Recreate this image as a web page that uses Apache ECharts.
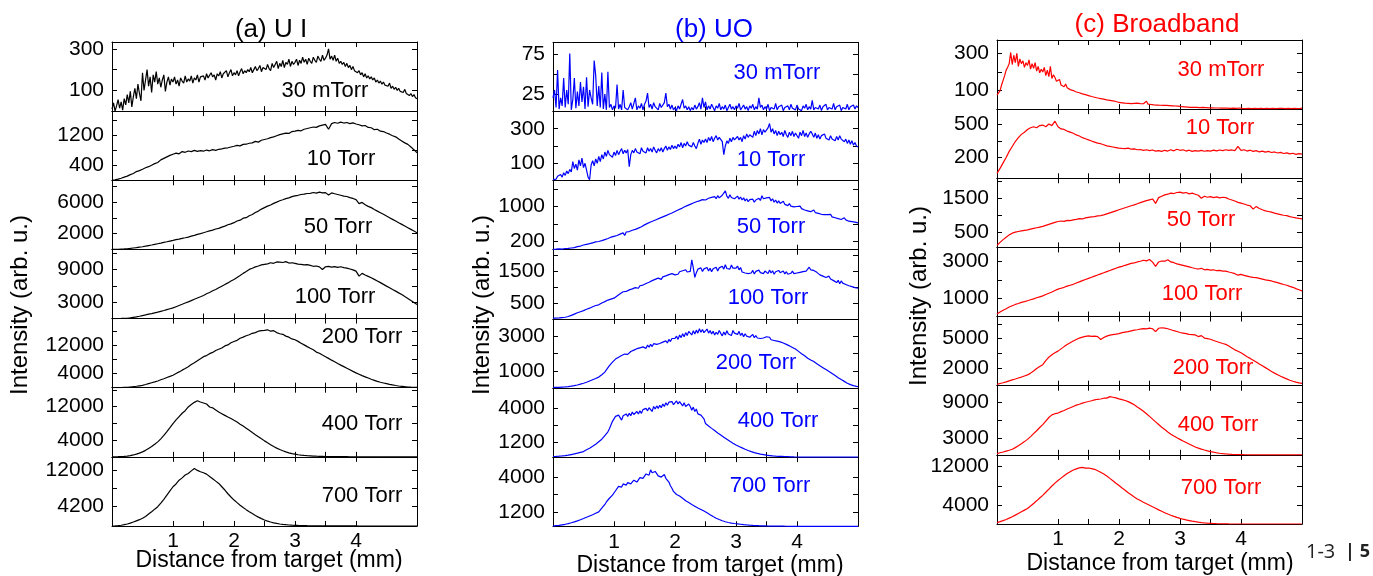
<!DOCTYPE html>
<html>
<head>
<meta charset="utf-8">
<script src="https://cdn.jsdelivr.net/npm/echarts@6/dist/echarts.min.js"></script>
<style>
  html, body { margin: 0; padding: 0; background: #fff; }
  #chart { width: 1373px; height: 576px; }
</style>
</head>
<body>
<div id="chart"></div>
<script>
// Emission intensity profiles vs distance from target, three emission bands,
// seven background pressures each. Samples are evenly spaced over 0–5 mm.
const DIST_MAX = 5;
const PRESSURES = ['30 mTorr', '10 Torr', '50 Torr', '100 Torr', '200 Torr', '400 Torr', '700 Torr'];
const BANDS = ['(a) U I', '(b) UO', '(c) Broadband'];
const X_TICKS = [1, 1.5, 2, 2.5, 3, 3.5, 4];
const X_LABELS = [1, 2, 3, 4];
const X_NAME = 'Distance from target (mm)';
const Y_NAME = 'Intensity (arb. u.)';

// ---- (a) U I ----
const ui30m = [10,40,0,25,55,15,45,5,60,30, 80,40,95,20,70,110,60,130,85,50,
  185,100,150,200,120,165,90,175,140,190, 130,160,115,150,175,95,140,165,125,155,
  140,165,130,150,120,160,145,135,170,140, 155,145,170,135,160,150,175,140,165,160,
  170,150,180,160,155,185,165,175,150,180, 170,190,160,180,175,195,165,185,200,170,
  185,175,195,170,190,205,180,195,185,200, 190,210,185,200,215,195,205,220,190,210,
  215,200,225,205,195,230,210,225,240,205, 230,215,245,210,235,225,250,215,240,225,
  235,250,220,245,230,260,235,250,225,255, 240,230,260,245,235,265,250,240,270,245,
  255,270,300,250,265,245,270,240,255,230, 240,225,235,215,230,210,220,200,215,195,
  200,185,195,175,185,165,180,160,170,155, 165,150,160,140,150,135,145,130,140,125,
  130,120,135,110,120,105,115,100,110,95, 100,90,105,85,90,75,85,70,80,65, 60];
const ui10 = [0,10,30,55,85,110,150,180,230,255, 290,330,360,400,440,470,540,580,620,660,
  690,720,700,760,740,775,760,790,765,785, 770,800,780,810,790,820,830,850,860,880,
  900,925,910,950,955,980,990,1030,1010,1060, 1080,1100,1130,1150,1180,1210,1230,1250,1240,1290,
  1300,1320,1310,1350,1370,1390,1410,1400,1440,1460, 1480,1350,1500,1530,1510,1540,1515,1530,1500,1520,
  1490,1470,1440,1450,1400,1390,1340,1350,1300,1290, 1250,1220,1180,1150,1090,1040,990,950,880,810, 730];
const ui50 = [0,10,20,40,60,85,130,180,230,285, 340,410,490,560,640,720,800,890,970,1060,
  1140,1230,1310,1400,1480,1565,1680,1780,1900,2000, 2115,2230,2350,2440,2580,2665,2820,2950,3120,3240,
  3385,3600,3700,3950,4020,4260,4420,4680,4850,5100, 5290,5480,5620,5830,5980,6160,6280,6430,6520,6680,
  6770,6850,6950,7000,7080,7100,7200,7120,7250,7150, 7190,6900,7150,7050,6950,6850,6750,6700,6550,6450,
  6300,5800,5950,5650,5450,5290,5050,4850,4650,4450, 4230,4020,3800,3600,3380,3170,2960,2750,2540,2330, 2115];
const ui100 = [0,5,15,25,40,60,120,220,320,430, 550,670,800,920,1050,1170,1330,1480,1640,1800,
  1960,2180,2400,2620,2850,3070,3300,3540,3770,4000, 4240,4550,4800,5100,5350,5650,5950,6250,6550,6900,
  7180,7550,7900,8300,8650,9030,9250,9500,9650,9850, 9950,10050,10250,10150,10400,10380,10300,10450,10200,10250,
  10130,10000,9950,9850,9900,9760,9600,9650,9500,9000, 9520,9600,9450,9550,9400,9520,9350,9250,9100,8950,
  8720,7800,8300,8000,7750,7490,7200,6900,6600,6280, 5960,5650,5330,5040,4720,4420,4050,3700,3330,2950, 2580];
const ui200 = [0,10,20,40,70,100,200,300,410,540, 670,900,1150,1400,1650,1920,2250,2550,2900,3220,
  3560,4050,4500,5000,5450,5960,6600,7100,7700,8250, 8840,9150,9700,10050,10600,10950,11300,11900,12200,12800,
  13170,13500,14100,14400,14800,15090,15500,15700,16100,16250, 16340,16500,16100,16250,15700,15380,15200,14700,14400,13900,
  13650,13200,12650,12200,11700,11240,10800,10150,9800,9300, 8840,8350,7850,7400,6900,6440,6000,5550,5100,4650,
  4230,3850,3450,3100,2750,2400,2100,1800,1550,1350, 1150,950,780,620,480,380,280,200,150,120, 100];
const ui400 = [0,10,30,60,100,160,280,450,650,900, 1190,1550,2000,2450,3000,3570,4300,5100,6000,6950,
  7930,8800,9600,10400,11000,11900,12500,13000,13400,13100, 12850,12600,11900,11700,11200,10700,10300,9900,9500,9150,
  8720,8300,7800,7350,6850,6340,5800,5300,4800,4300, 3810,3350,2900,2450,2080,1740,1450,1180,950,780,
  630,500,400,330,280,240,190,150,120,100, 80,70,60,55,50,40,35,30,25,20,
  20,15,15,10,10,10,10,5,5,5, 5,5,5,0,0,0,0,0,0,0, 0];
const ui700 = [0,30,80,160,280,430,620,850,1100,1350, 1640,2050,2550,3050,3600,4130,4900,5700,6600,7500,
  8400,9000,9800,10300,10900,11250,11800,12300,11900,11600, 11400,11100,10600,10100,9600,9110,8400,7700,6900,6200,
  5550,5000,4450,3950,3500,3060,2650,2250,1900,1580, 1280,1050,850,680,540,430,340,270,210,170,
  140,110,90,75,60,50,40,35,30,25, 20,20,15,15,10,10,10,5,5,5,
  5,0,0,0,0,0,0,0,0,0, 0,0,0,0,0,0,0,0,0,0, 0];

// ---- (b) UO ----
const uo30m = [20,30,8,55,6,20,10,45,8,30, 12,76,5,18,45,7,28,10,40,15,
  34,6,46,9,30,20,12,67,48,10, 35,8,52,6,25,5,53,8,12,5,
  10,7,37,6,12,5,30,8,10,5, 9,14,6,8,20,5,10,7,13,5,
  12,16,26,8,12,6,14,9,11,5, 13,8,10,14,26,9,12,6,11,5,
  8,4,10,6,12,18,7,10,5,9, 4,8,5,11,6,9,14,6,20,8,
  15,5,10,6,12,8,4,10,7,13, 5,9,6,11,4,8,12,6,9,5,
  10,7,13,5,8,11,6,9,4,10, 7,12,5,9,6,20,8,11,5,9,
  6,12,4,8,10,6,13,5,9,7, 11,4,8,6,10,5,12,7,9,5,
  11,6,8,4,10,7,12,5,9,6, 17,5,8,10,6,11,4,9,7,12,
  5,8,10,6,13,5,9,7,11,4, 8,10,6,12,5,9,7,11,6,10, 8];
const uo10 = [5,12,8,25,18,35,20,45,30,55, 40,65,50,110,70,95,60,120,85,130,
  75,100,60,20,5,90,115,85,125,100, 140,110,150,125,165,140,175,150,160,135,
  165,145,175,150,170,185,155,175,160,180, 80,150,175,160,185,165,175,155,190,170,
  180,160,190,170,185,165,195,175,160,185, 170,190,165,185,200,175,195,180,205,185,
  200,185,210,195,220,190,215,200,225,205, 210,195,220,200,185,215,240,210,235,220,
  240,220,250,230,255,225,245,260,235,250, 240,225,150,200,230,215,245,225,250,235,
  230,255,235,250,225,260,240,270,250,265, 275,250,285,260,290,270,300,265,295,280,
  285,305,330,280,300,270,290,260,285,265, 280,255,290,265,250,280,260,285,255,275,
  265,245,280,260,290,255,275,250,270,285, 270,250,275,245,265,240,260,250,270,245,
  255,235,260,240,250,230,255,235,260,240, 245,225,240,215,235,210,230,205,220,200, 195];
const uo50 = [10,15,12,20,18,25,15,30,28,35, 30,45,40,55,50,65,70,60,85,80,
  110,100,125,115,140,135,160,150,180,165, 190,175,210,200,235,225,260,245,290,275,
  310,290,330,305,360,340,390,330,410,380, 420,400,450,435,470,460,500,490,530,520,
  575,550,610,590,640,620,670,650,700,690, 730,720,760,745,790,780,820,810,850,840,
  885,870,920,900,950,930,990,960,1020,1000, 1050,1020,1080,1060,1110,1070,1130,1100,1160,1120,
  1150,1120,1190,1150,1210,1170,1230,1180,1250,1200, 1200,1260,1220,1360,1240,1190,1270,1210,1240,1180,
  1200,1240,1170,1220,1150,1200,1130,1180,1110,1160, 1120,1170,1100,1150,1130,1190,1140,1250,1180,1220,
  1200,1160,1210,1130,1180,1100,1150,1080,1130,1070, 1080,1120,1050,1090,1020,1070,1010,1050,990,1030,
  1000,970,1010,950,980,920,960,900,940,880, 890,920,860,900,840,870,820,860,810,840,
  810,780,820,760,790,740,770,720,760,700, 710,740,690,720,660,700,650,680,640,660, 620];
const uo100 = [20,25,22,35,30,45,40,55,50,65, 75,90,110,130,150,170,190,210,225,245,
  260,280,300,320,335,360,380,400,420,430, 440,470,500,520,540,560,590,610,620,640,
  650,690,720,760,790,820,850,880,860,900, 910,960,940,1000,980,1020,960,1040,1010,1060,
  1070,1110,1090,1150,1120,1200,1170,1240,1200,1280, 1280,1240,1320,1270,1350,1300,1390,1330,1420,1360,
  1380,1440,1400,1480,1420,1510,1450,1540,1470,1500, 1490,1850,1600,1300,1450,1560,1500,1600,1490,1570,
  1540,1610,1500,1590,1480,1570,1520,1620,1500,1600, 1540,1650,1560,1700,1580,1640,1560,1690,1590,1620,
  1590,1660,1540,1610,1470,1530,1440,1500,1420,1480, 1440,1520,1410,1490,1430,1530,1450,1510,1420,1500,
  1490,1420,1530,1440,1510,1400,1480,1430,1520,1450, 1440,1500,1410,1480,1400,1460,1430,1500,1420,1470,
  1440,1380,1460,1400,1480,1420,1500,1560,1620,1540, 1590,1520,1560,1460,1420,1380,1440,1340,1390,1300,
  1280,1340,1250,1310,1200,1260,1140,1210,1100,1190, 1120,1160,1080,1130,1040,1090,1010,1060,980,1000, 960];
const uo200 = [110,112,115,118,120,125,130,135,140,148, 155,165,180,195,210,230,250,275,300,320,
  345,370,400,435,470,505,540,575,610,650, 690,750,820,900,970,1100,1200,1330,1420,1530,
  1630,1700,1760,1800,1850,1900,1920,1980,2000,1960, 2050,2120,2060,2200,2150,2280,2180,2330,2250,2380,
  2420,2300,2480,2360,2530,2400,2560,2450,2520,2600, 2570,2480,2650,2550,2720,2600,2800,2680,2850,2760,
  2860,2980,2800,3050,2900,3120,2950,3180,3020,3250, 3140,3050,3280,3100,3320,3150,3400,3200,3350,3180,
  3230,3380,3150,3300,3100,3260,3050,3200,3080,3300, 3140,3000,3220,3050,3280,3100,3200,3020,3300,3150,
  3180,3080,3250,3020,3150,2950,3120,2980,3080,2920, 2990,3080,2900,3020,2880,2990,2850,2960,2880,2990,
  2950,2850,2920,2780,2880,2740,2820,2700,2780,2660, 2670,2600,2620,2520,2560,2440,2480,2350,2380,2260,
  2190,2130,2060,2000,1950,1880,1820,1750,1700,1650, 1630,1560,1500,1440,1400,1330,1280,1220,1170,1110,
  1060,1000,950,890,830,780,720,660,600,550, 500,450,400,350,310,270,240,210,190,170, 155];
const uo400 = [50,55,60,68,75,85,95,108,120,140, 160,185,210,235,260,290,320,355,390,420,
  450,520,600,660,720,800,880,960,1050,1150, 1250,1350,1450,1600,1750,1900,2050,2300,2600,2900,
  3100,3300,3150,3400,3200,3000,3350,3250,3500,3300, 3550,3350,3650,3450,3400,3700,3500,3750,3550,3850,
  3700,3950,3750,4000,3850,3700,4100,3900,4150,3950, 4200,4000,4300,4100,4400,4200,4450,4300,4500,4250,
  4350,4550,4300,4500,4450,4150,4400,4100,3950,4300, 4100,3800,4050,3700,3900,3500,3650,3400,3250,3100,
  2720,2620,2520,2420,2330,2240,2150,2050,1960,1880, 1790,1700,1620,1540,1450,1370,1280,1200,1130,1060,
  990,920,860,800,750,700,640,590,540,500, 450,410,370,335,300,270,240,220,200,180,
  160,145,130,115,100,90,80,72,65,60, 55,50,45,40,35,30,25,20,15,12,
  10,10,8,8,5,5,5,5,3,3, 0,0,0,0,0,0,0,0,0,0,
  0,0,0,0,0,0,0,0,0,0, 0,0,0,0,0,0,0,0,0,0, 0];
const uo700 = [70,85,100,115,130,150,170,190,210,235, 265,295,330,365,400,440,480,525,570,620,
  670,720,780,830,880,930,980,1040,1100,1150, 1210,1300,1500,1650,1800,2000,2150,2300,2400,2550,
  2690,2900,3050,3250,3360,3200,3450,3300,3350,3550, 3630,3450,3500,3750,3850,3600,3700,3950,4100,3900,
  3950,4250,4400,4150,4580,4350,4200,4450,4350,4100, 4170,4000,4050,4200,3900,3850,3600,3300,3100,2850,
  2690,2600,2550,2480,2400,2300,2180,2100,2030,1950, 1880,1800,1720,1660,1600,1520,1450,1400,1330,1270,
  1210,1130,1050,980,900,830,760,700,640,590, 535,490,450,415,380,355,330,310,290,275,
  265,245,230,215,200,185,170,160,150,140, 130,122,115,108,100,95,90,85,80,78,
  75,72,70,68,65,62,60,60,58,55, 55,55,55,52,52,50,50,50,50,50,
  50,50,50,50,50,50,50,50,50,50, 50,50,50,50,50,50,50,50,50,50,
  50,50,50,50,50,50,50,50,50,50, 50,50,50,50,50,50,50,50,50,50, 50];

// ---- (c) Broadband ----
const bb30m = [75,85,100,130,155,180,210,225,245,305, 240,290,250,300,230,270,245,260,225,250,
  235,265,215,245,220,250,205,230,195,215, 200,225,180,210,175,230,165,185,170,150,
  145,160,130,140,120,135,115,125,105,110, 100,108,92,98,88,94,82,86,78,80,
  73,76,68,70,64,66,60,62,57,58, 54,56,50,52,47,48,44,45,41,40,
  36,38,34,35,32,34,31,33,30,32, 31,29,32,28,30,27,29,26,42,27,
  27,25,26,23,24,22,23,21,22,20, 18,20,17,19,16,18,15,17,14,16,
  15,13,16,12,14,11,13,10,12,10, 11,9,12,8,10,9,11,8,10,7,
  9,7,8,6,9,6,8,5,7,6, 7,5,6,4,7,5,6,4,5,6,
  5,4,6,3,5,4,6,3,5,4, 5,3,6,4,5,3,6,4,5,3,
  5,4,6,3,5,4,6,4,5,3, 6,4,5,3,6,4,5,3,6,4, 5];
const bb10 = [55,100,150,200,255,300,345,380,410,430, 455,470,480,470,490,495,480,505,490,530,
  480,460,455,440,430,420,405,395,380,370, 360,350,340,330,325,315,305,300,295,290,
  285,282,280,285,275,278,270,272,265,270, 262,268,258,262,255,265,258,270,260,275,
  265,270,258,266,255,262,258,264,256,262, 258,266,260,268,262,270,264,268,262,300,
  265,270,258,266,255,262,250,258,248,255, 245,250,240,246,236,242,232,238,228,234, 230];
const bb50 = [110,200,280,350,420,470,500,520,540,555, 570,590,610,630,650,670,700,730,760,790,
  815,830,820,850,840,865,880,900,890,920, 935,950,960,980,990,1010,1040,1070,1100,1130,
  1160,1190,1220,1250,1280,1305,1340,1370,1400,1430, 1455,1480,1350,1520,1560,1600,1620,1650,1640,1670,
  1680,1650,1670,1630,1650,1620,1590,1500,1560,1530, 1550,1520,1540,1510,1530,1520,1480,1450,1420,1380,
  1355,1330,1300,1280,1180,1260,1200,1160,1130,1110, 1090,1060,1040,1020,1000,990,960,940,920,905, 895];
const bb100 = [170,280,370,450,540,610,680,730,790,830, 880,930,980,1040,1090,1140,1210,1280,1350,1430,
  1500,1550,1600,1660,1710,1760,1830,1890,1960,2020, 2080,2140,2200,2260,2320,2380,2440,2500,2560,2620,
  2680,2720,2780,2830,2880,2910,2960,3000,3050,3020, 3090,2950,2720,2960,3010,3000,3080,2960,2920,2860,
  2820,2780,2740,2700,2650,2610,2580,2620,2540,2560, 2520,2540,2490,2510,2470,2470,2420,2380,2330,2250,
  2290,2240,2200,2160,2130,2115,2080,2040,2000,1970, 1940,1890,1850,1800,1750,1710,1650,1600,1530,1470, 1410];
const bb200 = [340,420,500,590,690,790,880,980,1080,1190, 1300,1480,1700,1950,2150,2340,2750,3100,3350,3550,
  3720,3950,4180,4400,4580,4750,4900,5050,5150,5230, 5270,5230,5250,5200,4900,5100,5250,5350,5400,5450,
  5510,5600,5650,5700,5780,5860,5900,5970,6020,5990, 6060,6000,5700,6050,6100,6070,6000,5900,5800,5720,
  5620,5560,5500,5430,5400,5370,5200,5300,5050,5000, 4930,4800,4700,4600,4500,4410,4250,4050,3850,3700,
  3550,3350,3150,2980,2800,2620,2420,2230,2040,1850, 1650,1480,1320,1160,1020,890,760,650,560,490, 440];
const bb400 = [320,450,580,730,880,1050,1330,1630,1980,2350, 2730,3200,3700,4200,4750,5250,5850,6450,6900,7100,
  7210,7450,7650,7900,8100,8330,8550,8700,8900,9050, 9170,9300,9450,9550,9600,9730,9750,10000,9900,9800,
  9620,9500,9350,9150,8900,8610,8250,7900,7500,7100, 6650,6180,5700,5250,4800,4410,4000,3620,3300,3000,
  2730,2450,2200,1950,1700,1440,1250,1080,920,780, 660,550,450,370,300,250,210,180,160,140,
  130,120,115,110,108,105,104,103,102,101, 100,100,100,100,100,100,100,100,100,100, 100];
const bb700 = [280,480,700,950,1220,1520,1850,2200,2550,2900, 3240,3750,4300,4850,5450,6000,6650,7300,7950,8550,
  9100,9600,10100,10550,10950,11300,11550,11750,11860,11700, 11720,11600,11450,11150,10850,10480,10050,9550,9050,8550,
  8070,7550,7050,6550,6100,5650,5250,4900,4550,4250, 3930,3600,3280,2950,2650,2340,2080,1830,1600,1380,
  1170,1000,850,720,590,480,380,300,230,180, 140,100,70,50,30,15,5,0,0,0,
  0,0,0,0,0,0,0,0,0,0, 0,0,0,0,0,0,0,0,0,0, 0];

// y scale per panel: [min, max], labelled ticks, all ticks
const UI_RANGE  = [[0,333],[0,1830],[0,8750],[0,12700],[0,19700],[0,16500],[0,14800]];
const UI_LABELS = [[100,300],[400,1200],[2000,6000],[3000,9000],[4000,12000],[4000,12000],[4200,12000]];
const UI_TICKS  = [[100,200,300],[400,800,1200,1600],[2000,4000,6000,8000],[3000,6000,9000,12000],
                   [4000,8000,12000,16000],[4000,8000,12000,16000],[4200,8100,12000]];
const UO_RANGE  = [[3,90],[0,400],[0,1600],[0,2170],[80,3950],[0,5600],[50,5600]];
const UO_LABELS = [[25,75],[100,300],[200,1000],[500,1500],[1000,3000],[1200,4000],[1200,4000]];
const UO_TICKS  = [[25,50,75],[100,200,300],[200,600,1000,1400],[500,1000,1500,2000],
                   [1000,2000,3000],[1200,2600,4000],[1200,2600,4000]];
const BB_RANGE  = [[0,372],[10,640],[50,2090],[30,3740],[200,7240],[100,11860],[0,14480]];
const BB_LABELS = [[100,300],[200,500],[500,1500],[1000,3000],[2000,5000],[3000,9000],[4000,12000]];
const BB_TICKS  = [[100,200,300],[200,350,500],[500,1000,1500,2000],[1000,2000,3000],
                   [2000,3500,5000,6500],[3000,6000,9000],[4000,8000,12000]];

const columns = [
  { series: [ui30m, ui10, ui50, ui100, ui200, ui400, ui700], range: UI_RANGE, labels: UI_LABELS, ticks: UI_TICKS },
  { series: [uo30m, uo10, uo50, uo100, uo200, uo400, uo700], range: UO_RANGE, labels: UO_LABELS, ticks: UO_TICKS },
  { series: [bb30m, bb10, bb50, bb100, bb200, bb400, bb700], range: BB_RANGE, labels: BB_LABELS, ticks: BB_TICKS }
];

// ---- layout and style ----
const FONT = '"Liberation Sans", Arial, Helvetica, sans-serif';
const PAGE_FONT = '"Open Sans", "Noto Sans", sans-serif';
const INK = ['#000000', '#0000ff', '#ff0000'];
const COL_LEFT = [112, 553, 997];
const COL_TOP = [42, 42.3, 40];
const PANEL_W = 305;
const PANEL_H = 69.14;
const TITLE_POS = [[271, 30], [714, 30], [1157, 25]];
const XNAME_POS = [[269, 561], [710, 566], [1160, 564]];
const YNAME_POS = [[20, 305], [482, 305], [919, 296]];
const TAG_POS = [
  [[325, 91], [341, 159], [338, 227], [335, 297], [362, 337], [362, 424], [362, 496]],
  [[777, 73], [771, 160], [771, 227], [768, 298], [756, 363], [778, 421], [770, 486]],
  [[1221, 70], [1220, 128], [1201, 220], [1202, 294], [1213, 368], [1218, 425], [1221, 488]]
];

const grid = [], xAxis = [], yAxis = [], series = [], graphic = [];
const frameLine = { show: true, onZero: false, lineStyle: { color: '#000', width: 1 } };
const tickStyle = { color: '#000', width: 1 };
const fmt = v => String(v);

columns.forEach((col, c) => {
  col.series.forEach((vals, r) => {
    const g = grid.length;
    grid.push({ left: COL_LEFT[c], top: COL_TOP[c] + r * PANEL_H, width: PANEL_W, height: PANEL_H });
    const last = r === PRESSURES.length - 1;
    ['bottom', 'top'].forEach(pos => {
      xAxis.push({
        gridIndex: g, type: 'value', position: pos, min: 0, max: DIST_MAX,
        axisLine: frameLine, splitLine: { show: false },
        axisTick: { show: true, inside: true, length: 5, customValues: X_TICKS, lineStyle: tickStyle },
        axisLabel: { show: pos === 'bottom' && last, customValues: X_LABELS, formatter: fmt,
                     fontFamily: FONT, fontSize: 21, color: '#000', margin: 5 }
      });
    });
    ['left', 'right'].forEach(pos => {
      yAxis.push({
        gridIndex: g, type: 'value', position: pos, min: col.range[r][0], max: col.range[r][1],
        axisLine: frameLine, splitLine: { show: false },
        axisTick: { show: true, inside: true, length: 5, customValues: col.ticks[r], lineStyle: tickStyle },
        axisLabel: { show: pos === 'left', customValues: col.labels[r], formatter: fmt,
                     fontFamily: FONT, fontSize: 21, color: '#000', margin: 8 }
      });
    });
    series.push({
      type: 'line', name: BANDS[c] + ' ' + PRESSURES[r],
      xAxisIndex: 2 * g, yAxisIndex: 2 * g,
      data: vals.map((v, i) => [i * DIST_MAX / (vals.length - 1), v]),
      showSymbol: false, symbol: 'none', clip: true, silent: true,
      lineStyle: { color: INK[c], width: 1.2 }
    });
    graphic.push({
      type: 'text', x: TAG_POS[c][r][0], y: TAG_POS[c][r][1], silent: true,
      style: { text: PRESSURES[r], fill: INK[c], font: '22px ' + FONT,
               textAlign: 'center', textVerticalAlign: 'middle' }
    });
  });

  graphic.push({
    type: 'text', x: TITLE_POS[c][0], y: TITLE_POS[c][1], silent: true,
    style: { text: BANDS[c], fill: INK[c], font: '26px ' + FONT, textAlign: 'center', textVerticalAlign: 'middle' }
  });
  graphic.push({
    type: 'text', x: XNAME_POS[c][0], y: XNAME_POS[c][1], silent: true,
    style: { text: X_NAME, fill: '#000', font: '23px ' + FONT, textAlign: 'center', textVerticalAlign: 'middle' }
  });
  graphic.push({
    type: 'text', x: YNAME_POS[c][0], y: YNAME_POS[c][1], rotation: Math.PI / 2, silent: true,
    style: { text: Y_NAME, fill: '#000', font: '24px ' + FONT, textAlign: 'center', textVerticalAlign: 'middle' }
  });
});

// page number in the corner
graphic.push(
  { type: 'text', x: 1306, y: 552, silent: true,
    style: { text: '1-3', fill: '#222', font: '20px ' + PAGE_FONT, textAlign: 'left', textVerticalAlign: 'middle' } },
  { type: 'text', x: 1350, y: 552, silent: true,
    style: { text: '|', fill: '#222', font: 'bold 18px ' + PAGE_FONT, textAlign: 'center', textVerticalAlign: 'middle' } },
  { type: 'text', x: 1365, y: 552, silent: true,
    style: { text: '5', fill: '#222', font: 'bold 18px ' + PAGE_FONT, textAlign: 'center', textVerticalAlign: 'middle' } }
);

const chart = echarts.init(document.getElementById('chart'), null, { renderer: 'canvas' });
chart.setOption({ animation: false, backgroundColor: '#fff', grid, xAxis, yAxis, series, graphic });
</script>
</body>
</html>
